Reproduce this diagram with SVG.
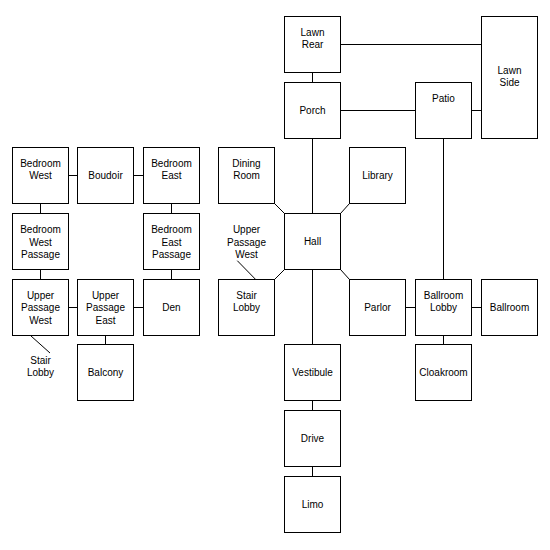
<svg xmlns="http://www.w3.org/2000/svg" width="550" height="550" viewBox="0 0 550 550">
<style>
.n rect{fill:#fff;stroke:#000;stroke-width:1}
text{font-family:"Liberation Sans",Arial,sans-serif;font-size:10px;fill:#000;text-anchor:middle}
.c line{stroke:#000;stroke-width:1}
</style>
<rect width="550" height="550" fill="#fff"/>
<g class="c" id="connectors">
<line x1="68.5" y1="175.5" x2="77.5" y2="175.5"/>
<line x1="133.5" y1="175.5" x2="143.5" y2="175.5"/>
<line x1="40.5" y1="203.5" x2="40.5" y2="213.5"/>
<line x1="171.5" y1="203.5" x2="171.5" y2="213.5"/>
<line x1="40.5" y1="269.5" x2="40.5" y2="279.5"/>
<line x1="171.5" y1="269.5" x2="171.5" y2="279.5"/>
<line x1="68.5" y1="307.5" x2="77.5" y2="307.5"/>
<line x1="133.5" y1="307.5" x2="143.5" y2="307.5"/>
<line x1="105.5" y1="335.5" x2="105.5" y2="344.5"/>
<line x1="31" y1="336" x2="50" y2="353"/>
<line x1="340.5" y1="44.5" x2="481.5" y2="44.5"/>
<line x1="312.5" y1="72.5" x2="312.5" y2="82.5"/>
<line x1="340.5" y1="110.5" x2="415.5" y2="110.5"/>
<line x1="471.5" y1="110.5" x2="481.5" y2="110.5"/>
<line x1="312.5" y1="138.5" x2="312.5" y2="213.5"/>
<line x1="443.5" y1="138.5" x2="443.5" y2="279.5"/>
<line x1="274.5" y1="203.5" x2="284.5" y2="213.5"/>
<line x1="349.5" y1="203.5" x2="340.5" y2="213.5"/>
<line x1="274.5" y1="279.5" x2="284.5" y2="269.5"/>
<line x1="340.5" y1="269.5" x2="349.5" y2="279.5"/>
<line x1="312.5" y1="269.5" x2="312.5" y2="344.5"/>
<line x1="405.5" y1="307.5" x2="415.5" y2="307.5"/>
<line x1="471.5" y1="307.5" x2="481.5" y2="307.5"/>
<line x1="443.5" y1="335.5" x2="443.5" y2="344.5"/>
<line x1="312.5" y1="400.5" x2="312.5" y2="410.5"/>
<line x1="312.5" y1="466.5" x2="312.5" y2="476.5"/>
<line x1="237.3" y1="260.7" x2="255.7" y2="279.5"/>
</g>
<g class="n" id="bedroom-west"><rect x="12.5" y="147.5" width="56" height="56"/><text x="40.5" y="167">Bedroom</text><text x="40.5" y="179">West</text></g>
<g class="n" id="boudoir"><rect x="77.5" y="147.5" width="56" height="56"/><text x="105.5" y="179">Boudoir</text></g>
<g class="n" id="bedroom-east"><rect x="143.5" y="147.5" width="56" height="56"/><text x="171.5" y="167">Bedroom</text><text x="171.5" y="179">East</text></g>
<g class="n" id="bedroom-west-passage"><rect x="12.5" y="213.5" width="56" height="56"/><text x="40.5" y="233">Bedroom</text><text x="40.5" y="245.5">West</text><text x="40.5" y="258">Passage</text></g>
<g class="n" id="bedroom-east-passage"><rect x="143.5" y="213.5" width="56" height="56"/><text x="171.5" y="233">Bedroom</text><text x="171.5" y="245.5">East</text><text x="171.5" y="258">Passage</text></g>
<g class="n" id="upper-passage-west"><rect x="12.5" y="279.5" width="56" height="56"/><text x="40.5" y="298.5">Upper</text><text x="40.5" y="311">Passage</text><text x="40.5" y="323.5">West</text></g>
<g class="n" id="upper-passage-east"><rect x="77.5" y="279.5" width="56" height="56"/><text x="105.5" y="298.5">Upper</text><text x="105.5" y="311">Passage</text><text x="105.5" y="323.5">East</text></g>
<g class="n" id="den"><rect x="143.5" y="279.5" width="56" height="56"/><text x="171.5" y="311">Den</text></g>
<g class="n" id="balcony"><rect x="77.5" y="344.5" width="56" height="56"/><text x="105.5" y="376">Balcony</text></g>
<g id="label-stair-lobby"><text x="40.5" y="364">Stair</text><text x="40.5" y="376">Lobby</text></g>
<g class="n" id="lawn-rear"><rect x="284.5" y="16.5" width="56" height="56"/><text x="312.5" y="36">Lawn</text><text x="312.5" y="48">Rear</text></g>
<g class="n" id="lawn-side"><rect x="481.5" y="16.5" width="56" height="122"/><text x="509.5" y="73.5">Lawn</text><text x="509.5" y="86">Side</text></g>
<g class="n" id="porch"><rect x="284.5" y="82.5" width="56" height="56"/><text x="312.5" y="114">Porch</text></g>
<g class="n" id="patio"><rect x="415.5" y="82.5" width="56" height="56"/><text x="443.5" y="102">Patio</text></g>
<g class="n" id="dining-room"><rect x="218.5" y="147.5" width="56" height="56"/><text x="246.5" y="167">Dining</text><text x="246.5" y="179">Room</text></g>
<g class="n" id="library"><rect x="349.5" y="147.5" width="56" height="56"/><text x="377.5" y="179">Library</text></g>
<g class="n" id="hall"><rect x="284.5" y="213.5" width="56" height="56"/><text x="312.5" y="245">Hall</text></g>
<g id="label-upper-passage-west"><text x="246.5" y="233">Upper</text><text x="246.5" y="245.5">Passage</text><text x="246.5" y="258">West</text></g>
<g class="n" id="stair-lobby"><rect x="218.5" y="279.5" width="56" height="56"/><text x="246.5" y="298.5">Stair</text><text x="246.5" y="310.5">Lobby</text></g>
<g class="n" id="parlor"><rect x="349.5" y="279.5" width="56" height="56"/><text x="377.5" y="311">Parlor</text></g>
<g class="n" id="ballroom-lobby"><rect x="415.5" y="279.5" width="56" height="56"/><text x="443.5" y="299">Ballroom</text><text x="443.5" y="311">Lobby</text></g>
<g class="n" id="ballroom"><rect x="481.5" y="279.5" width="56" height="56"/><text x="509.5" y="311">Ballroom</text></g>
<g class="n" id="vestibule"><rect x="284.5" y="344.5" width="56" height="56"/><text x="312.5" y="376">Vestibule</text></g>
<g class="n" id="cloakroom"><rect x="415.5" y="344.5" width="56" height="56"/><text x="443.5" y="376">Cloakroom</text></g>
<g class="n" id="drive"><rect x="284.5" y="410.5" width="56" height="56"/><text x="312.5" y="442">Drive</text></g>
<g class="n" id="limo"><rect x="284.5" y="476.5" width="56" height="56"/><text x="312.5" y="508">Limo</text></g>
</svg>
